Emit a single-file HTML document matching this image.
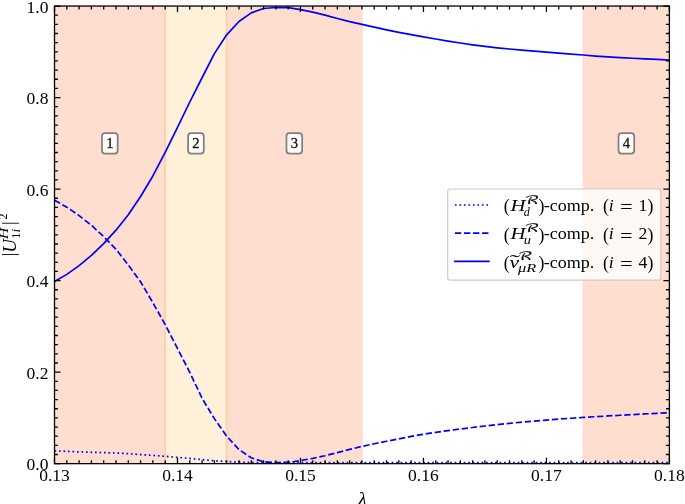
<!DOCTYPE html>
<html><head><meta charset="utf-8"><style>
html,body{margin:0;padding:0;background:#fff;width:685px;height:504px;overflow:hidden}
svg{display:block}
.t{font-family:"Liberation Serif","DejaVu Serif",serif;font-size:17.7px;fill:#000}
.b{font-family:"Liberation Serif","DejaVu Serif",serif;font-size:14.6px;fill:#111;stroke:#111;stroke-width:0.3px}
.i{font-style:italic}
.sup,.sub{font-size:11.7px}
.sb{font-family:"Liberation Serif","DejaVu Serif",serif;font-size:12px;fill:#000}
.cal{font-family:"DejaVu Math TeX Gyre","DejaVu Sans",serif;font-style:normal;font-size:11.5px;fill:#000;stroke:#000;stroke-width:0.12px}
</style></head><body>
<svg width="685" height="504" viewBox="0 0 685 504">
<rect x="54.50" y="6.05" width="110.68" height="457.60" fill="#ffdecf" />
<rect x="165.18" y="6.05" width="61.49" height="457.60" fill="#fff0d9" />
<rect x="226.67" y="6.05" width="135.98" height="457.60" fill="#ffdecf" />
<rect x="582.61" y="6.05" width="86.79" height="457.60" fill="#ffdecf" />
<rect x="361.15" y="6.05" width="1.0" height="457.60" fill="#ffd8c6" fill-opacity="0.6"/>
<rect x="583.11" y="6.05" width="1.0" height="457.60" fill="#ffd8c6" fill-opacity="0.6"/>
<rect x="164.28" y="6.05" width="1.8" height="457.60" fill="#fdd0a8"/>
<rect x="225.77" y="6.05" width="1.8" height="457.60" fill="#fdd0a8"/>
<polyline fill="none" stroke="#0000ff" stroke-width="1.7" stroke-dasharray="1.7 2.8" points="54.50,450.80 66.80,451.37 79.10,451.88 91.39,452.30 103.69,452.63 115.99,453.04 128.29,453.72 140.59,454.55 152.88,455.40 165.18,456.32 177.48,457.39 189.78,458.44 202.08,459.61 214.37,460.80 226.67,461.56 238.97,462.17 251.27,462.46 263.57,462.55 275.86,462.60 288.16,462.60 300.46,462.60 312.76,462.60 325.06,462.60 337.35,462.60 349.65,462.60 361.95,462.60 374.25,462.60 386.55,462.60 398.84,462.60 411.14,462.60 423.44,462.60 435.74,462.60 448.04,462.60 460.33,462.60 472.63,462.60 484.93,462.60 497.23,462.60 509.53,462.60 521.82,462.60 534.12,462.60 546.42,462.60 558.72,462.60 571.02,462.60 583.31,462.60 595.61,462.60 607.91,462.60 620.21,462.60 632.51,462.60 644.80,462.60 657.10,462.60 669.40,462.60"/>
<polyline fill="none" stroke="#0000ff" stroke-width="1.7" stroke-dasharray="6.35 2.72" points="54.50,200.20 66.80,207.14 79.10,215.56 91.39,225.30 103.69,236.63 115.99,249.22 128.29,265.00 140.59,281.83 152.88,302.70 165.18,324.61 177.48,348.48 189.78,372.35 202.08,398.33 214.37,418.65 226.67,436.25 238.97,449.55 251.27,457.79 263.57,461.79 275.86,462.60 288.16,462.39 300.46,460.60 312.76,458.32 325.06,455.72 337.35,452.61 349.65,449.43 361.95,446.39 374.25,443.75 386.55,441.29 398.84,438.82 411.14,436.41 423.44,434.22 435.74,432.31 448.04,430.60 460.33,429.01 472.63,427.48 484.93,426.02 497.23,424.62 509.53,423.33 521.82,422.16 534.12,421.07 546.42,420.06 558.72,419.12 571.02,418.25 583.31,417.45 595.61,416.69 607.91,415.97 620.21,415.27 632.51,414.59 644.80,413.93 657.10,413.29 669.40,412.70"/>
<polyline fill="none" stroke="#0000ff" stroke-width="1.7" stroke-linejoin="round" points="54.50,281.50 66.80,274.37 79.10,265.63 91.39,255.46 103.69,243.68 115.99,230.17 128.29,214.80 140.59,196.55 152.88,175.98 165.18,152.44 177.48,127.31 189.78,102.00 202.08,77.75 214.37,53.64 226.67,34.84 238.97,21.54 251.27,12.87 263.57,8.50 275.86,7.50 288.16,7.70 300.46,9.69 312.76,12.11 325.06,15.11 337.35,18.51 349.65,21.64 361.95,24.43 374.25,27.19 386.55,29.81 398.84,32.32 411.14,34.69 423.44,36.92 435.74,39.03 448.04,41.05 460.33,43.02 472.63,44.85 484.93,46.43 497.23,47.80 509.53,49.02 521.82,50.15 534.12,51.22 546.42,52.20 558.72,53.13 571.02,54.05 583.31,55.02 595.61,56.03 607.91,56.97 620.21,57.72 632.51,58.26 644.80,58.79 657.10,59.46 669.40,60.20"/>
<path d="M54.50 463.65v-6.0M54.50 6.05v6.0M66.80 463.65v-3.4M66.80 6.05v3.4M79.10 463.65v-3.4M79.10 6.05v3.4M91.39 463.65v-3.4M91.39 6.05v3.4M103.69 463.65v-3.4M103.69 6.05v3.4M115.99 463.65v-3.4M115.99 6.05v3.4M128.29 463.65v-3.4M128.29 6.05v3.4M140.59 463.65v-3.4M140.59 6.05v3.4M152.88 463.65v-3.4M152.88 6.05v3.4M165.18 463.65v-3.4M165.18 6.05v3.4M177.48 463.65v-6.0M177.48 6.05v6.0M189.78 463.65v-3.4M189.78 6.05v3.4M202.08 463.65v-3.4M202.08 6.05v3.4M214.37 463.65v-3.4M214.37 6.05v3.4M226.67 463.65v-3.4M226.67 6.05v3.4M238.97 463.65v-3.4M238.97 6.05v3.4M251.27 463.65v-3.4M251.27 6.05v3.4M263.57 463.65v-3.4M263.57 6.05v3.4M275.86 463.65v-3.4M275.86 6.05v3.4M288.16 463.65v-3.4M288.16 6.05v3.4M300.46 463.65v-6.0M300.46 6.05v6.0M312.76 463.65v-3.4M312.76 6.05v3.4M325.06 463.65v-3.4M325.06 6.05v3.4M337.35 463.65v-3.4M337.35 6.05v3.4M349.65 463.65v-3.4M349.65 6.05v3.4M361.95 463.65v-3.4M361.95 6.05v3.4M374.25 463.65v-3.4M374.25 6.05v3.4M386.55 463.65v-3.4M386.55 6.05v3.4M398.84 463.65v-3.4M398.84 6.05v3.4M411.14 463.65v-3.4M411.14 6.05v3.4M423.44 463.65v-6.0M423.44 6.05v6.0M435.74 463.65v-3.4M435.74 6.05v3.4M448.04 463.65v-3.4M448.04 6.05v3.4M460.33 463.65v-3.4M460.33 6.05v3.4M472.63 463.65v-3.4M472.63 6.05v3.4M484.93 463.65v-3.4M484.93 6.05v3.4M497.23 463.65v-3.4M497.23 6.05v3.4M509.53 463.65v-3.4M509.53 6.05v3.4M521.82 463.65v-3.4M521.82 6.05v3.4M534.12 463.65v-3.4M534.12 6.05v3.4M546.42 463.65v-6.0M546.42 6.05v6.0M558.72 463.65v-3.4M558.72 6.05v3.4M571.02 463.65v-3.4M571.02 6.05v3.4M583.31 463.65v-3.4M583.31 6.05v3.4M595.61 463.65v-3.4M595.61 6.05v3.4M607.91 463.65v-3.4M607.91 6.05v3.4M620.21 463.65v-3.4M620.21 6.05v3.4M632.51 463.65v-3.4M632.51 6.05v3.4M644.80 463.65v-3.4M644.80 6.05v3.4M657.10 463.65v-3.4M657.10 6.05v3.4M669.40 463.65v-6.0M669.40 6.05v6.0M54.5 463.65h6.0M669.4 463.65h-6.0M54.5 454.50h3.4M669.4 454.50h-3.4M54.5 445.35h3.4M669.4 445.35h-3.4M54.5 436.19h3.4M669.4 436.19h-3.4M54.5 427.04h3.4M669.4 427.04h-3.4M54.5 417.89h3.4M669.4 417.89h-3.4M54.5 408.74h3.4M669.4 408.74h-3.4M54.5 399.59h3.4M669.4 399.59h-3.4M54.5 390.43h3.4M669.4 390.43h-3.4M54.5 381.28h3.4M669.4 381.28h-3.4M54.5 372.13h6.0M669.4 372.13h-6.0M54.5 362.98h3.4M669.4 362.98h-3.4M54.5 353.83h3.4M669.4 353.83h-3.4M54.5 344.67h3.4M669.4 344.67h-3.4M54.5 335.52h3.4M669.4 335.52h-3.4M54.5 326.37h3.4M669.4 326.37h-3.4M54.5 317.22h3.4M669.4 317.22h-3.4M54.5 308.07h3.4M669.4 308.07h-3.4M54.5 298.91h3.4M669.4 298.91h-3.4M54.5 289.76h3.4M669.4 289.76h-3.4M54.5 280.61h6.0M669.4 280.61h-6.0M54.5 271.46h3.4M669.4 271.46h-3.4M54.5 262.31h3.4M669.4 262.31h-3.4M54.5 253.15h3.4M669.4 253.15h-3.4M54.5 244.00h3.4M669.4 244.00h-3.4M54.5 234.85h3.4M669.4 234.85h-3.4M54.5 225.70h3.4M669.4 225.70h-3.4M54.5 216.55h3.4M669.4 216.55h-3.4M54.5 207.39h3.4M669.4 207.39h-3.4M54.5 198.24h3.4M669.4 198.24h-3.4M54.5 189.09h6.0M669.4 189.09h-6.0M54.5 179.94h3.4M669.4 179.94h-3.4M54.5 170.79h3.4M669.4 170.79h-3.4M54.5 161.63h3.4M669.4 161.63h-3.4M54.5 152.48h3.4M669.4 152.48h-3.4M54.5 143.33h3.4M669.4 143.33h-3.4M54.5 134.18h3.4M669.4 134.18h-3.4M54.5 125.03h3.4M669.4 125.03h-3.4M54.5 115.87h3.4M669.4 115.87h-3.4M54.5 106.72h3.4M669.4 106.72h-3.4M54.5 97.57h6.0M669.4 97.57h-6.0M54.5 88.42h3.4M669.4 88.42h-3.4M54.5 79.27h3.4M669.4 79.27h-3.4M54.5 70.11h3.4M669.4 70.11h-3.4M54.5 60.96h3.4M669.4 60.96h-3.4M54.5 51.81h3.4M669.4 51.81h-3.4M54.5 42.66h3.4M669.4 42.66h-3.4M54.5 33.51h3.4M669.4 33.51h-3.4M54.5 24.35h3.4M669.4 24.35h-3.4M54.5 15.20h3.4M669.4 15.20h-3.4M54.5 6.05h6.0M669.4 6.05h-6.0" stroke="#000" stroke-width="1.3" fill="none"/>
<rect x="54.5" y="6.05" width="614.90" height="457.60" fill="none" stroke="#000" stroke-width="1.3"/>
<text transform="translate(54.50 480.8) scale(0.99 1)" text-anchor="middle" class="t">0.13</text>
<text transform="translate(177.48 480.8) scale(0.99 1)" text-anchor="middle" class="t">0.14</text>
<text transform="translate(300.46 480.8) scale(0.99 1)" text-anchor="middle" class="t">0.15</text>
<text transform="translate(423.44 480.8) scale(0.99 1)" text-anchor="middle" class="t">0.16</text>
<text transform="translate(546.42 480.8) scale(0.99 1)" text-anchor="middle" class="t">0.17</text>
<text transform="translate(669.40 480.8) scale(0.99 1)" text-anchor="middle" class="t">0.18</text>
<text transform="translate(48.4 470.35) scale(0.99 1)" text-anchor="end" class="t">0.0</text>
<text transform="translate(48.4 378.83) scale(0.99 1)" text-anchor="end" class="t">0.2</text>
<text transform="translate(48.4 287.31) scale(0.99 1)" text-anchor="end" class="t">0.4</text>
<text transform="translate(48.4 195.79) scale(0.99 1)" text-anchor="end" class="t">0.6</text>
<text transform="translate(48.4 104.27) scale(0.99 1)" text-anchor="end" class="t">0.8</text>
<text transform="translate(48.4 12.75) scale(0.99 1)" text-anchor="end" class="t">1.0</text>
<rect x="101.99" y="133.20" width="15.7" height="20.3" rx="3" fill="#fffcfa" fill-opacity="0.95" stroke="#808080" stroke-width="1.75"/>
<text id="B1" x="109.84" y="148.25" text-anchor="middle" class="b">1</text>
<rect x="188.08" y="133.20" width="15.7" height="20.3" rx="3" fill="#fffcfa" fill-opacity="0.95" stroke="#808080" stroke-width="1.75"/>
<text id="B2" x="195.93" y="148.25" text-anchor="middle" class="b">2</text>
<rect x="286.46" y="133.20" width="15.7" height="20.3" rx="3" fill="#fffcfa" fill-opacity="0.95" stroke="#808080" stroke-width="1.75"/>
<text id="B3" x="294.31" y="148.25" text-anchor="middle" class="b">3</text>
<rect x="618.51" y="133.20" width="15.7" height="20.3" rx="3" fill="#fffcfa" fill-opacity="0.95" stroke="#808080" stroke-width="1.75"/>
<text id="B4" x="626.36" y="148.25" text-anchor="middle" class="b">4</text>
<rect x="447.7" y="189" width="213.1" height="91.2" rx="2.4" fill="#fff" fill-opacity="0.8" stroke="#cccccc" stroke-width="1.2"/>
<line x1="454.9" y1="205.0" x2="488.7" y2="205.0" stroke="#0000ff" stroke-width="1.7" stroke-dasharray="1.7 2.8"/>
<line x1="454.9" y1="233.1" x2="488.7" y2="233.1" stroke="#0000ff" stroke-width="1.7" stroke-dasharray="6.35 2.72"/>
<line x1="454.9" y1="261.4" x2="488.9" y2="261.4" stroke="#0000ff" stroke-width="1.7" stroke-linecap="square"/>
<text id="L0o" transform="translate(503.80 212.40) scale(1 1.06)" class="t">(</text>
<text id="L0H" x="510.40" y="211.00" class="t i" textLength="15.0" lengthAdjust="spacingAndGlyphs">H</text>
<text id="L0s" x="524.00" y="203.80" class="cal" textLength="15.2" lengthAdjust="spacingAndGlyphs">ℛ</text>
<text id="L0d" x="523.80" y="215.60" class="sb i" >d</text>
<text id="L0c" transform="translate(538.40 212.40) scale(1 1.06)" class="t">)</text>
<text id="L0m" x="543.70" y="211.00" class="t" textLength="50.6" lengthAdjust="spacingAndGlyphs">-comp.</text>
<text id="L0p" transform="translate(602.90 212.40) scale(1 1.06)" class="t">(</text>
<text id="L0i" x="608.80" y="211.00" class="t i" >i</text>
<text id="L0e" transform="translate(619.9 213.35) scale(1 1.1)" class="t" textLength="12.6" lengthAdjust="spacingAndGlyphs">=</text>
<text id="L0n" x="638.60" y="211.00" class="t" >1</text>
<text id="L0q" transform="translate(647.60 212.40) scale(1 1.06)" class="t">)</text>
<text id="L1o" transform="translate(503.80 240.70) scale(1 1.06)" class="t">(</text>
<text id="L1H" x="510.40" y="239.30" class="t i" textLength="15.0" lengthAdjust="spacingAndGlyphs">H</text>
<text id="L1s" x="524.00" y="232.10" class="cal" textLength="15.2" lengthAdjust="spacingAndGlyphs">ℛ</text>
<text id="L1d" x="523.80" y="243.90" class="sb i" textLength="7.2" lengthAdjust="spacingAndGlyphs">u</text>
<text id="L1c" transform="translate(538.40 240.70) scale(1 1.06)" class="t">)</text>
<text id="L1m" x="543.70" y="239.30" class="t" textLength="50.6" lengthAdjust="spacingAndGlyphs">-comp.</text>
<text id="L1p" transform="translate(602.90 240.70) scale(1 1.06)" class="t">(</text>
<text id="L1i" x="608.80" y="239.30" class="t i" >i</text>
<text id="L1e" transform="translate(619.9 241.65) scale(1 1.1)" class="t" textLength="12.6" lengthAdjust="spacingAndGlyphs">=</text>
<text id="L1n" x="638.60" y="239.30" class="t" >2</text>
<text id="L1q" transform="translate(647.60 240.70) scale(1 1.06)" class="t">)</text>
<text id="L2o" transform="translate(503.80 269.00) scale(1 1.06)" class="t">(</text>
<text id="L2H" x="509.60" y="267.60" class="t i" textLength="9.6" lengthAdjust="spacingAndGlyphs">ν</text>
<text id="L2t" x="509.80" y="265.60" class="t" textLength="10.5" lengthAdjust="spacingAndGlyphs">˜</text>
<text id="L2s" x="517.40" y="260.40" class="cal" textLength="15.0" lengthAdjust="spacingAndGlyphs">ℛ</text>
<text id="L2d" x="518.00" y="272.20" class="sb i" textLength="18.2" lengthAdjust="spacingAndGlyphs">μR</text>
<text id="L2c" transform="translate(538.40 269.00) scale(1 1.06)" class="t">)</text>
<text id="L2m" x="543.70" y="267.60" class="t" textLength="50.6" lengthAdjust="spacingAndGlyphs">-comp.</text>
<text id="L2p" transform="translate(602.90 269.00) scale(1 1.06)" class="t">(</text>
<text id="L2i" x="608.80" y="267.60" class="t i" >i</text>
<text id="L2e" transform="translate(619.9 269.95) scale(1 1.1)" class="t" textLength="12.6" lengthAdjust="spacingAndGlyphs">=</text>
<text id="L2n" x="638.60" y="267.60" class="t" >4</text>
<text id="L2q" transform="translate(647.60 269.00) scale(1 1.06)" class="t">)</text>
<text id="XL" x="362.4" y="505.4" text-anchor="middle" class="t i" style="font-size:19.6px">λ</text>
<g transform="translate(16.2 255.5) rotate(-90)">
<text id="Y1" transform="translate(1.1 -1.25) scale(1 1.118)" text-anchor="middle" class="t">|</text>
<text id="Y2" x="2.8" y="0" class="t i" style="font-size:19.8px" textLength="13.8" lengthAdjust="spacingAndGlyphs">U</text>
<text id="Y3" x="16.2" y="-8.3" class="sb i" textLength="11.6" lengthAdjust="spacingAndGlyphs">H</text>
<text id="Y4" x="16.4" y="3.3" class="sb" textLength="10.2" lengthAdjust="spacingAndGlyphs">1<tspan class="i">i</tspan></text>
<text id="Y5" transform="translate(32.2 -1.25) scale(1 1.118)" text-anchor="middle" class="t">|</text>
<text id="Y6" x="36.1" y="-8.8" class="sb">2</text>
</g>
</svg></body></html>
